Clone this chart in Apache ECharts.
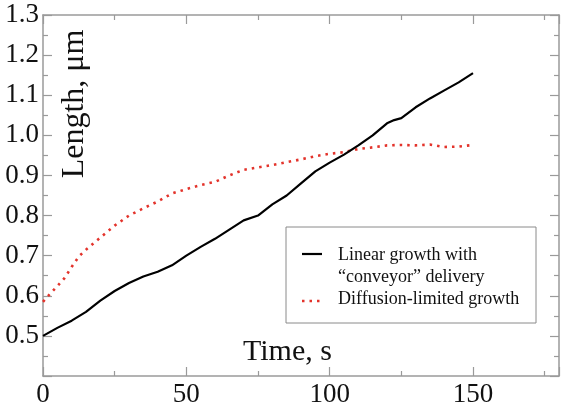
<!DOCTYPE html>
<html><head><meta charset="utf-8">
<script src="https://cdn.jsdelivr.net/npm/echarts@6/dist/echarts.min.js"></script>
<style>html,body{margin:0;padding:0;background:#fff}#c{width:561px;height:414px}</style>
</head><body><div id="c"></div>
<script>
// ---- data ----
const timeLinear   = [0,5,10,15,20,25,30,35,40,45,50,55,60,65,70,75,80,85,90,95,100,105,110,115,120,122.5,125,130,135,140,145,150];
const lengthLinear = [0.500,0.520,0.538,0.560,0.588,0.612,0.632,0.648,0.660,0.676,0.700,0.722,0.742,0.765,0.788,0.800,0.828,0.850,0.880,0.910,0.932,0.952,0.975,1.000,1.030,1.038,1.043,1.070,1.092,1.112,1.132,1.155];
const timeDiffusion   = [0,2.5,5,7.5,10,12.5,15,20,25,30,35,40,45,50,55,60,65,70,75,80,85,90,95,100,105,110,115,120,125,130,135,140,145,150];
const lengthDiffusion = [0.585,0.605,0.624,0.644,0.672,0.698,0.715,0.745,0.775,0.800,0.818,0.835,0.855,0.866,0.876,0.884,0.900,0.914,0.920,0.926,0.933,0.940,0.948,0.954,0.958,0.966,0.970,0.975,0.976,0.975,0.977,0.971,0.972,0.976];
const seriesNames = ['Linear growth with\n\u201cconveyor\u201d delivery', 'Diffusion-limited growth'];
const xTitle = 'Time, s';
const yTitle = 'Length, \u03bcm';

const pairs = (xs, ys) => xs.map((x, i) => [x, ys[i]]);
const FONT = '"Liberation Serif", "DejaVu Serif", serif';
const spine = '#9a9a9a';

function axisCommon(show) {
  return {
    axisLine: { show: true, onZero: false, lineStyle: { color: spine, width: 1.5 } },
    axisTick: { show: true, inside: true, length: 9, lineStyle: { color: spine, width: 1.2 } },
    minorTick: { show: true, splitNumber: 2, length: 5, lineStyle: { color: spine, width: 1.2 } },
    splitLine: { show: false },
    axisLabel: { show: show, color: '#111', fontFamily: FONT, fontSize: 27 }
  };
}

const chart = echarts.init(document.getElementById('c'), null, { renderer: 'canvas' });
const xBase = { type: 'value', min: 0, max: 180, interval: 50 };
const yBase = { type: 'value', min: 0.4, max: 1.3, interval: 0.1 };
const xb = Object.assign({}, xBase, axisCommon(true), { position: 'bottom' });
xb.axisLabel.margin = 5;
xb.axisLabel.showMaxLabel = false;
const xt = Object.assign({}, xBase, axisCommon(false), { position: 'top' });
const yl = Object.assign({}, yBase, axisCommon(true), { position: 'left' });
yl.axisLabel.margin = 4;
yl.axisLabel.formatter = v => (v < 0.45 ? '' : v.toFixed(1));
const yr = Object.assign({}, yBase, axisCommon(false), { position: 'right' });

chart.setOption({
  animation: false,
  backgroundColor: '#fff',
  grid: { left: 43, right: 2, top: 15, bottom: 38, containLabel: false },
  xAxis: [xb, xt],
  yAxis: [yl, yr],
  series: [
    { name: seriesNames[0], type: 'line', data: pairs(timeLinear, lengthLinear), showSymbol: false,
      lineStyle: { color: '#000', width: 2.2 }, z: 3 },
    { name: seriesNames[1], type: 'line', data: pairs(timeDiffusion, lengthDiffusion), showSymbol: false,
      lineStyle: { color: '#e3332b', width: 2.6, type: [2.5, 5], cap: 'butt' }, z: 2 }
  ],
  graphic: [
    { type: 'text', left: 243, top: 337, style: { text: xTitle, fontFamily: FONT, fontSize: 30, fill: '#111' } },
    { type: 'text', x: 75, y: 104, rotation: Math.PI / 2,
      style: { text: yTitle, fontFamily: FONT, fontSize: 32, fill: '#111', align: 'center', verticalAlign: 'middle' } },
    { type: 'rect', shape: { x: 286, y: 227, width: 250, height: 96 },
      style: { fill: '#fff', stroke: '#8a8a8a', lineWidth: 1 }, z: 10 },
    { type: 'line', shape: { x1: 302, y1: 254, x2: 322, y2: 254 }, style: { stroke: '#000', lineWidth: 2.2 }, z: 11 },
    { type: 'line', shape: { x1: 302, y1: 301, x2: 324, y2: 301 },
      style: { stroke: '#e3332b', lineWidth: 2.6, lineDash: [2.5, 5] }, z: 11 },
    { type: 'text', x: 338, y: 244, z: 11,
      style: { text: seriesNames[0], fontFamily: FONT, fontSize: 18, lineHeight: 22, fill: '#111', verticalAlign: 'top' } },
    { type: 'text', x: 338, y: 288, z: 11,
      style: { text: seriesNames[1], fontFamily: FONT, fontSize: 18, lineHeight: 22, fill: '#111', verticalAlign: 'top' } }
  ]
});
</script>
</body></html>
